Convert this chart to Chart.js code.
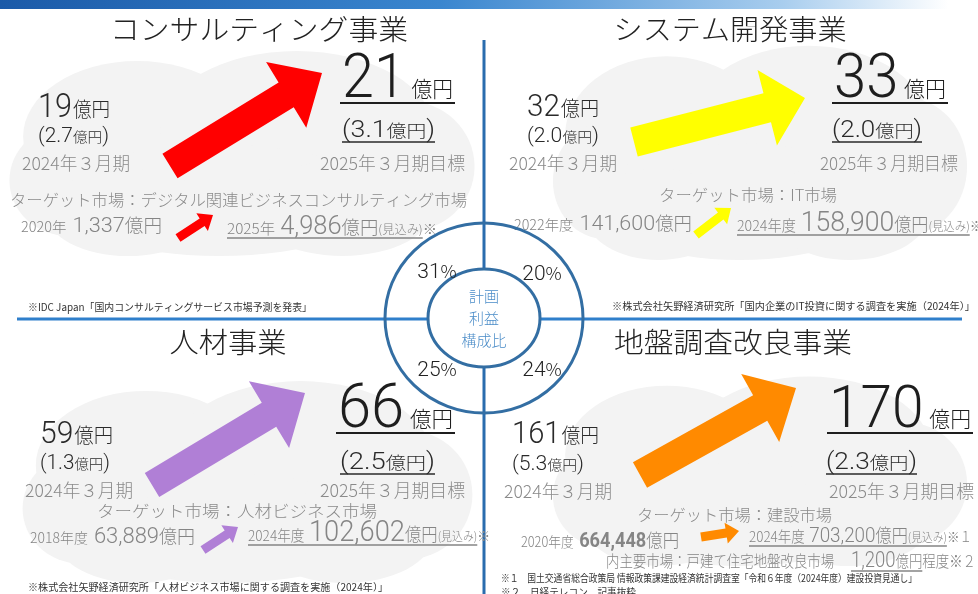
<!DOCTYPE html>
<html lang="ja">
<head>
<meta charset="utf-8">
<title>事業別 計画と利益構成比</title>
<script src="https://cdn.jsdelivr.net/npm/chart.js@4.4.1/dist/chart.umd.min.js"></script>
<style>
  html, body { margin: 0; padding: 0; background: #fff; }
  #wrap { position: relative; width: 978px; height: 594px; }
</style>
</head>
<body>
<div id="wrap"><canvas id="board"></canvas></div>
<script>
// ---- data ----
const segments = ['コンサルティング事業', 'システム開発事業', '人材事業', '地盤調査改良事業'];
const salesActual = [19, 32, 59, 161];          // 億円, 2024年3月期
const profitActual = [2.7, 2.0, 1.3, 5.3];      // 億円
const salesTarget = [21, 33, 66, 170];          // 億円, 2025年3月期目標
const profitTarget = [3.1, 2.0, 2.5, 2.3];      // 億円
const profitShare = [31, 20, 25, 24];           // 計画利益構成比 %
const actualPeriod = '2024年３月期';
const targetPeriod = '2025年３月期目標';
const centerLabel = ['計画', '利益', '構成比'];

const marketNames = ['デジタル関連ビジネスコンサルティング市場', 'IT市場', '人材ビジネス市場', '建設市場'];
const marketBaseYears = ['2020年', '2022年度', '2018年度', '2020年度'];
const marketBaseValues = [1337, 141600, 63889, 664448];
const marketForecastYears = ['2025年', '2024年度', '2024年度', '2024年度'];
const marketForecastValues = [4986, 158900, 102602, 703200];
const marketNoteMarks = ['※', '※', '※', '※１'];
const subMarketName = '内主要市場：戸建て住宅地盤改良市場';
const subMarketValue = 1200;

const sources = [
  ['※IDC Japan「国内コンサルティングサービス市場予測を発表」'],
  ['※株式会社矢野経済研究所「国内企業のIT投資に関する調査を実施（2024年）」'],
  ['※株式会社矢野経済研究所「人材ビジネス市場に関する調査を実施（2024年）」'],
  ['※１　国土交通省総合政策局 情報政策課建設経済統計調査室「令和６年度（2024年度）建設投資見通し」',
   '※２　日経テレコン　記事抜粋']
];
const arrowColors = ['#ff0000', '#ffff00', '#b07fd6', '#ff8a00'];

// ---- layout (chart value space = 978 x 594) ----
const layout = [
  { title: {x: 259, y: 40, w: 298}, cloud: [14, 57, 470, 256],
    arrow: {tail: [170, 166], tip: [322, 73], shaft: 29, head: 77, len: 42},
    sales: {x: 38, y: 117, w: 72, s: 33}, profit: {x: 38, y: 142, w: 71},
    period: {x: 22, y: 170, w: 108},
    target: {x: 342, y: 97, w: 111, s: 61}, targetProfit: {x: 342, y: 137, w: 93},
    targetPeriod: {x: 465, y: 170, w: 145},
    market: {x: 10, y: 206, w: 457, align: 'left'},
    base: {x: 21, y: 232, w: 141, s: 21}, fc: {x: 227, y: 234, w: 210, s: 25},
    small: {tail: [178, 238], tip: [213, 215]},
    source: [{x: 28, y: 311, w: 284}], share: [437, 270] },
  { title: {x: 730, y: 40, w: 233}, cloud: [557, 52, 963, 260],
    arrow: {tail: [634, 142], tip: [805, 98], shaft: 30, head: 78, len: 39},
    sales: {x: 527, y: 116, w: 72, s: 31}, profit: {x: 527, y: 142, w: 72},
    period: {x: 509, y: 170, w: 108},
    target: {x: 834, y: 97, w: 112, s: 61}, targetProfit: {x: 832, y: 137, w: 90},
    targetPeriod: {x: 958, y: 170, w: 138},
    market: {x: 748, y: 201, w: 178, align: 'center'},
    base: {x: 514, y: 230, w: 178, s: 21}, fc: {x: 737, y: 231, w: 246, s: 28},
    small: {tail: [696, 235], tip: [731, 208]},
    source: [{x: 612, y: 310, w: 363}], share: [542, 272] },
  { title: {x: 228, y: 353, w: 117}, cloud: [27, 387, 468, 583],
    arrow: {tail: [152, 485], tip: [305, 393], shaft: 28, head: 78, len: 42},
    sales: {x: 40, y: 443, w: 73, s: 31}, profit: {x: 40, y: 469, w: 70},
    period: {x: 25, y: 497, w: 108},
    target: {x: 338, y: 427, w: 115, s: 61}, targetProfit: {x: 340, y: 469, w: 95},
    targetPeriod: {x: 465, y: 497, w: 145},
    market: {x: 97, y: 517, w: 280, align: 'left'},
    base: {x: 30, y: 543, w: 165, s: 22}, fc: {x: 248, y: 541, w: 242, s: 30},
    small: {tail: [203, 550], tip: [238, 527]},
    source: [{x: 28, y: 591, w: 360}], share: [437, 368] },
  { title: {x: 733, y: 353, w: 238}, cloud: [557, 382, 963, 566],
    arrow: {tail: [640, 475], tip: [796, 388], shaft: 29, head: 78, len: 41},
    sales: {x: 512, y: 443, w: 87, s: 31}, profit: {x: 512, y: 470, w: 72},
    period: {x: 504, y: 498, w: 108},
    target: {x: 829, y: 427, w: 142, s: 60}, targetProfit: {x: 826, y: 469, w: 91},
    targetPeriod: {x: 974, y: 498, w: 145},
    market: {x: 637, y: 521, w: 195, align: 'left'},
    base: {x: 521, y: 547, w: 158, s: 20, bold: true}, fc: {x: 749, y: 542, w: 223, s: 21},
    small: {tail: [701, 537], tip: [739, 531]},
    sub: {x: 606, y: 567, w: 370},
    source: [{x: 501, y: 582, w: 416}, {x: 501, y: 596, w: 135}], share: [542, 368] }
];

const FONT = '"Noto Sans CJK JP", "Noto Sans", sans-serif';
const DIGITS = 'Roboto, "Noto Sans CJK JP", sans-serif';
const DARK = '#1e1e1e';
const GRAY = '#8a8a8a';
const fmt = n => n.toLocaleString('en-US');

function fontOf(size, weight, family) {
  return (weight || '300') + ' ' + size + 'px ' + (family || FONT);
}

// runs: [text, size, {c, w, f, gap}] -- drawn in sequence, line fitted to a width
function textLine(ctx, runs, x, y, w, o) {
  o = o || {};
  const items = runs.map(([t, s, e]) => {
    e = e || {};
    ctx.font = fontOf(s, e.w, e.f);
    return { t, s, e, gap: e.gap || 0, w: ctx.measureText(t).width };
  });
  const natural = items.reduce((a, it) => a + it.gap + it.w, 0);
  const k = w ? w / natural : 1;
  let cx = x;
  if (o.align === 'center') cx = x - natural * k / 2;
  else if (o.align === 'right') cx = x - natural * k;
  const spans = [];
  ctx.save();
  ctx.textBaseline = 'alphabetic';
  ctx.textAlign = 'left';
  items.forEach(it => {
    cx += it.gap * k;
    ctx.save();
    ctx.translate(cx, y);
    ctx.scale(k, 1);
    ctx.font = fontOf(it.s, it.e.w, it.e.f);
    ctx.fillStyle = it.e.c || o.color || DARK;
    ctx.fillText(it.t, 0, 0);
    ctx.restore();
    spans.push([cx, cx + it.w * k]);
    cx += it.w * k;
  });
  if (o.underline) {
    const [a, b] = o.underline === true ? [0, spans.length - 1] : o.underline;
    ctx.strokeStyle = o.ulColor || o.color || DARK;
    ctx.lineWidth = o.ulWidth || 1.5;
    const pad = o.ulPad || 0;
    const uy = y + (o.ulOffset || 4);
    ctx.beginPath();
    ctx.moveTo(spans[a][0] - pad, uy);
    ctx.lineTo(spans[b][1] + pad, uy);
    ctx.stroke();
  }
  ctx.restore();
  return spans;
}

function arrow(ctx, tail, tip, shaft, head, headLen, color) {
  const dx = tip[0] - tail[0], dy = tip[1] - tail[1];
  const L = Math.hypot(dx, dy);
  const ux = dx / L, uy = dy / L, nx = -uy, ny = ux;
  const nk = [tip[0] - ux * headLen, tip[1] - uy * headLen];
  const pts = [
    [tail[0] + nx * shaft / 2, tail[1] + ny * shaft / 2],
    [nk[0] + nx * shaft / 2, nk[1] + ny * shaft / 2],
    [nk[0] + nx * head / 2, nk[1] + ny * head / 2],
    tip,
    [nk[0] - nx * head / 2, nk[1] - ny * head / 2],
    [nk[0] - nx * shaft / 2, nk[1] - ny * shaft / 2],
    [tail[0] - nx * shaft / 2, tail[1] - ny * shaft / 2]
  ];
  ctx.beginPath();
  pts.forEach((p, i) => i ? ctx.lineTo(p[0], p[1]) : ctx.moveTo(p[0], p[1]));
  ctx.closePath();
  ctx.fillStyle = color;
  ctx.fill();
}

// cloud made of overlapping ellipses inside a box
const cloudParts = [
  [0.27, 0.40, 0.25, 0.38], [0.62, 0.37, 0.30, 0.40], [0.12, 0.62, 0.13, 0.28],
  [0.86, 0.55, 0.15, 0.33], [0.45, 0.72, 0.36, 0.28], [0.72, 0.76, 0.20, 0.24],
  [0.25, 0.78, 0.18, 0.22]
];
function cloud(ctx, box) {
  const [x0, y0, x1, y1] = box, w = x1 - x0, h = y1 - y0;
  ctx.fillStyle = '#f3f3f3';
  cloudParts.forEach(([cx, cy, rx, ry]) => {
    ctx.beginPath();
    ctx.ellipse(x0 + cx * w, y0 + cy * h, rx * w, ry * h, 0, 0, Math.PI * 2);
    ctx.fill();
  });
}

const boardPlugin = {
  id: 'board',
  beforeDraw(chart) {
    const ctx = chart.ctx;
    const sx = chart.scales.x, sy = chart.scales.y;
    const X = v => sx.getPixelForValue(v);
    const Y = v => sy.getPixelForValue(v);
    const W = v => sx.getPixelForValue(v) - sx.getPixelForValue(0);
    const P = p => [X(p[0]), Y(p[1])];
    const box = b => [X(b[0]), Y(b[1]), X(b[2]), Y(b[3])];

    ctx.save();
    ctx.fillStyle = '#ffffff';
    ctx.fillRect(0, 0, chart.width, chart.height);

    // top band
    const g = ctx.createLinearGradient(X(0), 0, X(978), 0);
    g.addColorStop(0, '#1b5aa8');
    g.addColorStop(0.45, '#3a86cf');
    g.addColorStop(0.8, '#a8cdee');
    g.addColorStop(0.97, '#ffffff');
    ctx.fillStyle = g;
    ctx.fillRect(X(0), Y(0), W(978), Y(9) - Y(0));

    layout.forEach(L => cloud(ctx, box(L.cloud)));

    // quadrant divider lines
    ctx.lineWidth = 3;
    ctx.strokeStyle = '#2f7fcb';
    ctx.beginPath(); ctx.moveTo(X(17), Y(319)); ctx.lineTo(X(962), Y(319)); ctx.stroke();
    ctx.strokeStyle = '#2a6cae';
    ctx.beginPath(); ctx.moveTo(X(484), Y(40)); ctx.lineTo(X(484), Y(594)); ctx.stroke();

    segments.forEach((name, i) => {
      const L = layout[i];
      arrow(ctx, P(L.arrow.tail), P(L.arrow.tip), W(L.arrow.shaft), W(L.arrow.head), W(L.arrow.len), arrowColors[i]);
      arrow(ctx, P(L.small.tail), P(L.small.tip), W(9), W(21), W(13), arrowColors[i]);

      textLine(ctx, [[name, 28]], X(L.title.x), Y(L.title.y), W(L.title.w), {align: 'center', color: '#222'});

      // actual
      textLine(ctx, [[String(salesActual[i]), L.sales.s, {f: DIGITS}], ['億円', 20, {gap: 1}]],
        X(L.sales.x), Y(L.sales.y), W(L.sales.w), {color: '#2a2a2a'});
      textLine(ctx, [['(' + profitActual[i].toFixed(1), 20, {f: DIGITS}], ['億円', 14], [')', 20, {f: DIGITS}]],
        X(L.profit.x), Y(L.profit.y), W(L.profit.w), {color: '#2a2a2a'});
      textLine(ctx, [[actualPeriod, 18]], X(L.period.x), Y(L.period.y), W(L.period.w), {color: GRAY});

      // target
      textLine(ctx, [[String(salesTarget[i]), L.target.s, {f: DIGITS}], ['億円', 22, {gap: 6}]],
        X(L.target.x), Y(L.target.y), W(L.target.w),
        {color: DARK, underline: true, ulOffset: 6, ulWidth: 2, ulPad: 2});
      textLine(ctx, [['(' + profitTarget[i].toFixed(1), 23, {f: DIGITS}], ['億円', 17], [')', 23, {f: DIGITS}]],
        X(L.targetProfit.x), Y(L.targetProfit.y), W(L.targetProfit.w),
        {color: '#2a2a2a', underline: true, ulOffset: 5, ulWidth: 1.5});
      textLine(ctx, [[targetPeriod, 18]], X(L.targetPeriod.x), Y(L.targetPeriod.y), W(L.targetPeriod.w),
        {color: GRAY, align: 'right'});

      // market
      textLine(ctx, [['ターゲット市場：' + marketNames[i], 16]], X(L.market.x), Y(L.market.y), W(L.market.w),
        {color: GRAY, align: L.market.align});
      textLine(ctx, [[marketBaseYears[i], 14], [fmt(marketBaseValues[i]), L.base.s, {gap: 6, f: DIGITS, w: L.base.bold ? 'bold' : '300'}], ['億円', 18]],
        X(L.base.x), Y(L.base.y), W(L.base.w), {color: '#858585'});
      textLine(ctx, [[marketForecastYears[i], 15], [fmt(marketForecastValues[i]), L.fc.s, {gap: 5, f: DIGITS}], ['億円', 18], ['(見込み)', 12], [marketNoteMarks[i], 14]],
        X(L.fc.x), Y(L.fc.y), W(L.fc.w),
        {color: '#858585', underline: [0, 3], ulOffset: 4, ulWidth: 1.5});

      // sources
      L.source.forEach((s, j) => {
        textLine(ctx, [[sources[i][j], 10, {w: 'normal'}]], X(s.x), Y(s.y), W(s.w), {color: '#333'});
      });
    });

    // sub market (ground improvement)
    const S = layout[3].sub;
    textLine(ctx, [[subMarketName + '　', 16], [fmt(subMarketValue), 22, {gap: 4, f: DIGITS}], ['億円', 16], ['程度※２', 16]],
      X(S.x), Y(S.y), W(S.w), {color: '#858585', underline: [1, 2], ulOffset: 4, ulWidth: 1.5});

    // profit share ring
    const c = P([484, 318]);
    ctx.lineWidth = 3;
    ctx.strokeStyle = '#336ea3';
    ctx.beginPath();
    ctx.ellipse(c[0], c[1], W(99), W(95), 0, 0, Math.PI * 2);
    ctx.stroke();
    ctx.beginPath();
    ctx.ellipse(c[0], c[1], W(56), W(49), 0, 0, Math.PI * 2);
    ctx.fillStyle = '#ffffff';
    ctx.fill();
    ctx.stroke();

    profitShare.forEach((v, i) => {
      const p = P(layout[i].share);
      textLine(ctx, [[String(v), 21, {f: DIGITS}], ['%', 18]], p[0], p[1] + 8, 0, {align: 'center', color: '#222'});
    });
    centerLabel.forEach((t, j) => {
      textLine(ctx, [[t, 15]], c[0], Y(302 + j * 22), 0, {align: 'center', color: '#4a8cc8'});
    });
    ctx.restore();
  }
};

new Chart(document.getElementById('board').getContext('2d'), {
  type: 'scatter',
  data: { datasets: [{ data: [], pointRadius: 0 }] },
  options: {
    responsive: true,
    maintainAspectRatio: false,
    animation: false,
    layout: { padding: 0 },
    plugins: { legend: { display: false }, tooltip: { enabled: false } },
    scales: {
      x: { type: 'linear', min: 0, max: 978, display: false },
      y: { type: 'linear', min: 0, max: 594, reverse: true, display: false }
    }
  },
  plugins: [boardPlugin]
});
</script>
</body>
</html>
